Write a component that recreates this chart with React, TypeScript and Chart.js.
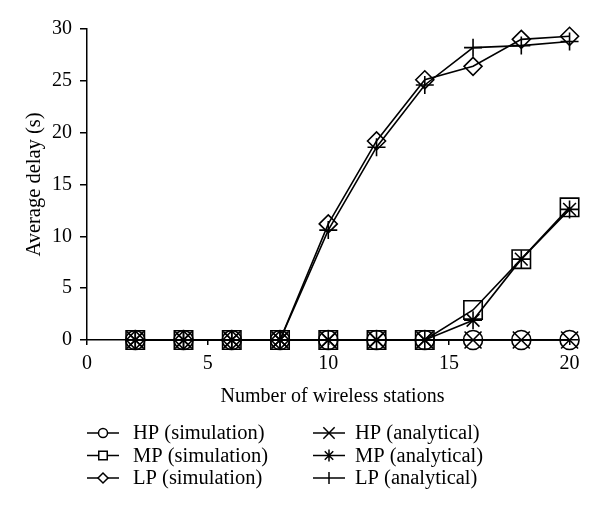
import React, { useEffect, useRef } from 'react';
import { Chart, registerables } from 'chart.js';

Chart.register(...registerables);

const stations = [2, 4, 6, 8, 10, 12, 14, 16, 18, 20];
const hpSim = [0, 0, 0, 0, 0, 0, 0, 0, 0, 0];
const mpSim = [0, 0, 0, 0, 0, 0, 0, 2.9, 7.8, 12.8];
const lpSim = [0, 0, 0, 0, 11.2, 19.2, 25.1, 26.4, 29.0, 29.3];
const hpAna = [0, 0, 0, 0, 0, 0, 0, 0, 0, 0];
const mpAna = [0, 0, 0, 0, 0, 0, 0, 1.9, 7.8, 12.6];
const lpAna = [0, 0, 0, 0, 10.6, 18.6, 24.6, 28.2, 28.4, 28.8];

const xTicks = [0, 5, 10, 15, 20];
const yTicks = [0, 5, 10, 15, 20, 25, 30];

const FONT = "'Liberation Serif', 'Times New Roman', serif";

export default function App() {
  const ref = useRef<HTMLCanvasElement>(null);

  useEffect(() => {
    if (!ref.current) return;
    const series = [
      { label: 'HP (simulation)', data: hpSim, style: 'circle', r: 9.5, lr: 4.5 },
      { label: 'MP (simulation)', data: mpSim, style: 'rect', r: 13, lr: 6 },
      { label: 'LP (simulation)', data: lpSim, style: 'rectRot', r: 9, lr: 5 },
      { label: 'HP (analytical)', data: hpAna, style: 'crossRot', r: 12, lr: 8 },
      { label: 'MP (analytical)', data: mpAna, style: 'star', r: 9, lr: 6 },
      { label: 'LP (analytical)', data: lpAna, style: 'cross', r: 9, lr: 6 },
    ];

    function drawMarker(ctx: CanvasRenderingContext2D, style: string, r: number, x: number, y: number) {
      ctx.beginPath();
      ctx.lineWidth = 1.5;
      ctx.strokeStyle = '#000';
      if (style === 'circle') {
        ctx.arc(x, y, r, 0, Math.PI * 2);
        ctx.fillStyle = '#fff';
        ctx.fill();
      } else if (style === 'rect') {
        const h = r * Math.SQRT1_2;
        ctx.rect(x - h, y - h, 2 * h, 2 * h);
        ctx.fillStyle = '#fff';
        ctx.fill();
      } else if (style === 'rectRot') {
        ctx.moveTo(x - r, y);
        ctx.lineTo(x, y - r);
        ctx.lineTo(x + r, y);
        ctx.lineTo(x, y + r);
        ctx.closePath();
        ctx.fillStyle = '#fff';
        ctx.fill();
      } else if (style === 'crossRot' || style === 'star') {
        const d = r * Math.SQRT1_2;
        ctx.moveTo(x - d, y - d);
        ctx.lineTo(x + d, y + d);
        ctx.moveTo(x - d, y + d);
        ctx.lineTo(x + d, y - d);
        if (style === 'star') {
          ctx.moveTo(x, y - r);
          ctx.lineTo(x, y + r);
        }
      } else if (style === 'cross') {
        ctx.moveTo(x, y - r);
        ctx.lineTo(x, y + r);
      }
      ctx.stroke();
    }

    const legendPlugin = {
      id: 'lineLegend',
      afterDraw(chart: any) {
        const { ctx, chartArea } = chart;
        const colLine = [chartArea.left, 313];
        const colText = [133, 355];
        const lineLen = 32;
        const top = chartArea.bottom + 93;
        const rowH = 22.5;
        ctx.save();
        ctx.font = `20.5px ${FONT}`;
        ctx.textBaseline = 'middle';
        ctx.textAlign = 'left';
        series.forEach((s, i) => {
          const col = Math.floor(i / 3);
          const row = i % 3;
          const x0 = colLine[col];
          const y = top + row * rowH;
          ctx.strokeStyle = '#000';
          ctx.lineWidth = 1.5;
          ctx.beginPath();
          ctx.moveTo(x0, y);
          ctx.lineTo(x0 + lineLen, y);
          ctx.stroke();
          drawMarker(ctx, s.style, s.lr, x0 + lineLen / 2, y);
          ctx.fillStyle = '#000';
          ctx.fillText(s.label, colText[col], y + 1);
        });
        ctx.restore();
      },
    };

    const chart = new Chart(ref.current, {
      type: 'line',
      data: {
        datasets: series.map((s) => ({
          label: s.label,
          data: stations.map((x, i) => ({ x, y: s.data[i] })),
          pointStyle: s.style as any,
          pointRadius: s.r,
          pointHoverRadius: s.r,
          borderColor: '#000',
          backgroundColor: 'rgba(0,0,0,0)',
          pointBackgroundColor: 'rgba(0,0,0,0)',
          pointBorderColor: '#000',
          borderWidth: 1.6,
          pointBorderWidth: 1.6,
          fill: false,
          tension: 0,
          clip: false as any,
        })),
      },
      options: {
        responsive: false,
        animation: false,
        events: [],
        layout: { padding: { left: 0, top: 29, right: 22, bottom: 105 } },
        plugins: { legend: { display: false }, tooltip: { enabled: false } },
        scales: {
          x: {
            type: 'linear',
            min: 0,
            max: 20.35,
            afterBuildTicks: (ax: any) => {
              ax.ticks = xTicks.map((v) => ({ value: v }));
            },
            afterFit: (ax: any) => {
              ax.height = 69;
            },
            grid: { display: true, drawOnChartArea: false, drawTicks: true, tickLength: 5, color: '#000', lineWidth: 1.5 },
            border: { display: true, color: '#000', width: 1.5 },
            ticks: { color: '#000', font: { family: FONT, size: 20 }, padding: 7, maxRotation: 0 },
            title: {
              display: true,
              text: 'Number of wireless stations',
              color: '#000',
              font: { family: FONT, size: 20 },
              padding: { top: 0, bottom: 0 },
            },
          },
          y: {
            type: 'linear',
            min: 0,
            max: 30,
            afterBuildTicks: (ax: any) => {
              ax.ticks = yTicks.map((v) => ({ value: v }));
            },
            afterFit: (ax: any) => {
              ax.width = 87;
            },
            grid: { display: true, drawOnChartArea: false, drawTicks: true, tickLength: 7, color: '#000', lineWidth: 1.5 },
            border: { display: true, color: '#000', width: 1.5 },
            ticks: { color: '#000', font: { family: FONT, size: 20 }, padding: 8 },
            title: {
              display: true,
              text: 'Average delay (s)',
              color: '#000',
              font: { family: FONT, size: 20.5 },
              padding: { top: 22, bottom: 0 },
            },
          },
        },
      },
      plugins: [legendPlugin],
    });
    return () => chart.destroy();
  }, []);

  return (
    <div style={{ position: 'absolute', left: 0, top: 0, width: 600, height: 514, background: '#fff' }}>
      <canvas ref={ref} width={600} height={514} style={{ display: 'block' }} />
    </div>
  );
}
